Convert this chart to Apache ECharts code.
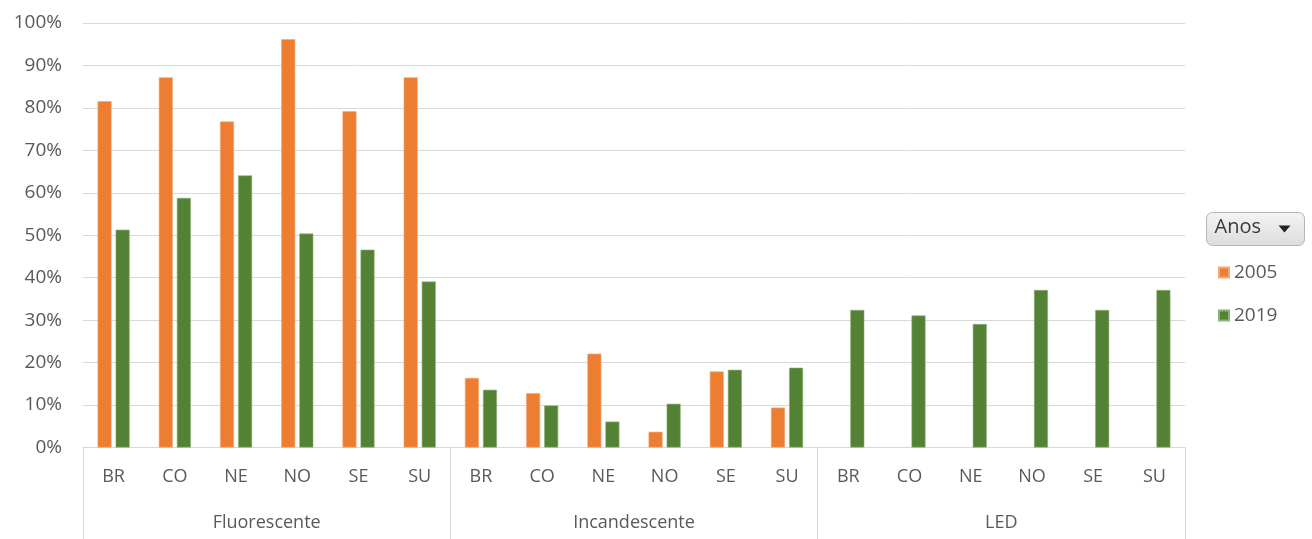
<!DOCTYPE html>
<html>
<head>
<meta charset="utf-8">
<title>Lâmpadas por região</title>
<script src="https://cdn.jsdelivr.net/npm/echarts@6/dist/echarts.min.js"></script>
<style>
  html, body { margin: 0; padding: 0; background: #fff; }
  #chart { width: 1312px; height: 539px; }
</style>
</head>
<body>
<div id="chart"></div>
<script>
// regiões (nível 1 do eixo) e tipos de lâmpada (nível 2)
const regioes = ['BR', 'CO', 'NE', 'NO', 'SE', 'SU'];
const tipos = ['Fluorescente', 'Incandescente', 'LED'];
const anos = ['2005', '2019'];

// valores em fração (0-1), ordem: Fluorescente, Incandescente, LED
const fluor2005 = [0.816, 0.872, 0.768, 0.962, 0.792, 0.872];
const fluor2019 = [0.513, 0.588, 0.641, 0.504, 0.466, 0.391];
const incand2005 = [0.164, 0.128, 0.221, 0.037, 0.179, 0.094];
const incand2019 = [0.136, 0.099, 0.061, 0.103, 0.183, 0.188];
const led2005 = [null, null, null, null, null, null];
const led2019 = [0.324, 0.311, 0.291, 0.371, 0.324, 0.371];

const yTicks = [0, 0.1, 0.2, 0.3, 0.4, 0.5, 0.6, 0.7, 0.8, 0.9, 1];

const corTexto = '#595959';
const corGrade = '#d9d9d9';
const fonte = '"Open Sans", "Noto Sans", sans-serif';

// categorias achatadas: BR..SU repetido para cada tipo
const categorias = [];
tipos.forEach(() => regioes.forEach(r => categorias.push(r)));
const serie2005 = [].concat(fluor2005, incand2005, led2005);
const serie2019 = [].concat(fluor2019, incand2019, led2019);

const myChart = echarts.init(document.getElementById('chart'));

const option = {
  backgroundColor: '#fff',
  animation: false,
  textStyle: { fontFamily: fonte },
  grid: { left: 83, right: 127, top: 23, bottom: 91.5 },
  legend: {
    data: anos,
    orient: 'vertical',
    left: 1213,
    top: 258,
    itemWidth: 10,
    itemHeight: 10,
    itemGap: 24,
    icon: 'rect',
    textStyle: { color: corTexto, fontSize: 19, fontFamily: fonte }
  },
  xAxis: [
    {
      type: 'category',
      data: categorias,
      position: 'bottom',
      axisLine: { lineStyle: { color: corGrade, width: 1 } },
      axisTick: { show: false },
      axisLabel: { color: corTexto, fontSize: 18, margin: 20, interval: 0 }
    },
    {
      // segundo nível: tipos de lâmpada
      type: 'category',
      data: tipos,
      position: 'bottom',
      axisLine: { show: false },
      axisTick: { show: true, length: 92, lineStyle: { color: corGrade, width: 1 } },
      axisLabel: { color: corTexto, fontSize: 18, margin: 66, interval: 0 }
    }
  ],
  yAxis: {
    type: 'value',
    min: 0,
    max: 1,
    interval: 0.1,
    axisLine: { show: false },
    axisTick: { show: false },
    splitLine: { lineStyle: { color: corGrade, width: 1 } },
    axisLabel: {
      color: corTexto,
      fontSize: 19,
      margin: 21,
      formatter: v => {
        const t = yTicks.find(x => Math.abs(x - v) < 1e-6);
        return Math.round((t !== undefined ? t : v) * 100) + '%';
      }
    }
  },
  series: [
    {
      name: anos[0],
      type: 'bar',
      xAxisIndex: 0,
      data: serie2005,
      barWidth: 14,
      barGap: '29%',
      itemStyle: { color: '#ED7D31', borderColor: '#f4a878', borderWidth: 0.6 }
    },
    {
      name: anos[1],
      type: 'bar',
      xAxisIndex: 0,
      data: serie2019,
      barWidth: 14,
      barGap: '29%',
      itemStyle: { color: '#548235', borderColor: '#8fb07a', borderWidth: 0.6 }
    }
  ],
  // botão de campo "Anos" da tabela dinâmica
  graphic: [
    {
      type: 'group',
      left: 1206,
      top: 212,
      children: [
        {
          type: 'rect',
          shape: { x: 0, y: 0, width: 98, height: 33, r: 6 },
          style: {
            fill: new echarts.graphic.LinearGradient(0, 0, 0, 1, [
              { offset: 0, color: '#f4f4f4' },
              { offset: 1, color: '#dcdcdc' }
            ]),
            stroke: '#b5b5b5',
            lineWidth: 1
          }
        },
        {
          type: 'text',
          x: 8,
          y: 5,
          style: { text: 'Anos', fill: '#3b3b3b', fontSize: 20, fontFamily: fonte }
        },
        {
          type: 'polygon',
          shape: { points: [[72, 13], [84, 13], [78, 20]] },
          style: { fill: '#222' }
        }
      ]
    }
  ]
};

myChart.setOption(option);
</script>
</body>
</html>
